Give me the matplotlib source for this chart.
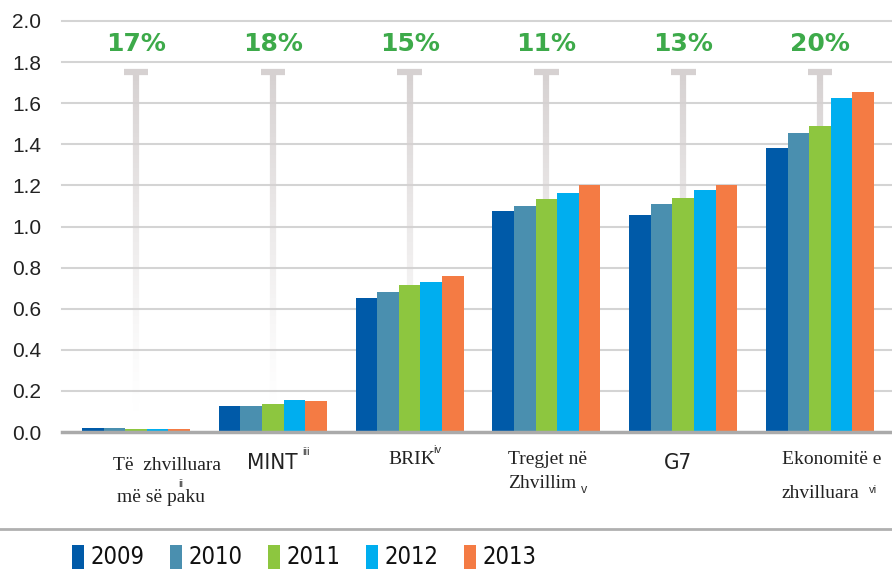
import matplotlib
matplotlib.use("Agg")
import matplotlib.pyplot as plt
from matplotlib import font_manager
from matplotlib.collections import LineCollection
from matplotlib.patches import Rectangle
import numpy as np

# data
years = ["2009", "2010", "2011", "2012", "2013"]
colors = ["#005AA8", "#4A8FAF", "#8DC63F", "#00AEEF", "#F47B44"]
groups = ["Të zhvilluara\nmë së paku", "MINT", "BRIK", "Tregjet në\nZhvillim", "G7", "Ekonomitë e\nzhvilluara"]
values = [
    [0.020, 0.127, 0.652, 1.075, 1.058, 1.382],  # 2009
    [0.020, 0.127, 0.681, 1.100, 1.111, 1.457],  # 2010
    [0.015, 0.136, 0.715, 1.134, 1.139, 1.489],  # 2011
    [0.015, 0.156, 0.730, 1.165, 1.178, 1.625],  # 2012
    [0.015, 0.151, 0.759, 1.200, 1.200, 1.655],  # 2013
]
growth = ["17%", "18%", "15%", "11%", "13%", "20%"]
yticks = [0.0, 0.2, 0.4, 0.6, 0.8, 1.0, 1.2, 1.4, 1.6, 1.8, 2.0]

# pick a narrow upright face if one is installed
cond = [f.fname for f in font_manager.fontManager.ttflist
        if f.fname.endswith("DejaVuSansCondensed.ttf")]
if cond:
    narrow = dict(fontproperties=font_manager.FontProperties(fname=cond[0]))
else:
    narrow = dict(fontfamily="Roboto")
sans = "Liberation Sans"
serif = "Liberation Serif"

W, H = 892, 569
fig = plt.figure(figsize=(W / 100, H / 100), dpi=100)
ax = fig.add_axes([62 / W, (H - 432) / H, 830 / W, 411 / H])

def px(x, y):
    return x / W, 1 - y / H

n = len(years)
bw = 0.158
x = np.arange(len(groups))
for i in range(n):
    ax.bar(x + (i - (n - 1) / 2) * bw, values[i], bw, color=colors[i], zorder=3, linewidth=0)

ax.set_xlim(-0.541, 5.526)
ax.set_ylim(0, 2.0)
ax.set_yticks(yticks)
ax.set_yticklabels([f"{t:.1f}" for t in yticks], fontfamily=sans, fontsize=15, color="#222222")
ax.tick_params(axis="y", length=0, pad=15)
ax.set_xticks([])
for s in ax.spines.values():
    s.set_visible(False)
for t in yticks[1:]:
    ax.axhline(t, color="#d4d4d4", lw=1.5, zorder=1, clip_on=False)
ax.axhline(0, color="#aaaaaa", lw=2.5, zorder=4, clip_on=False)

# fading T markers and growth labels
top = 1.752
for xi, g in zip(x, growth):
    ys = np.linspace(top, 0.08, 80)
    segs = [[(xi, ys[k]), (xi, ys[k + 1])] for k in range(len(ys) - 1)]
    alphas = np.linspace(1, 0, len(segs)) ** 1.3
    cols = [(0.84, 0.82, 0.82, a) for a in alphas]
    ax.add_collection(LineCollection(segs, colors=cols, linewidths=4.5, zorder=2))
    ax.plot([xi - 0.09, xi + 0.09], [top, top], color="#d6d1d1", lw=4.5, zorder=2, solid_capstyle="butt")
    ax.text(xi, 1.89, g, ha="center", va="center", color="#3DAA4A", fontsize=18,
            fontweight="bold", fontfamily="DejaVu Sans")

# category labels
lab = dict(fontfamily=serif, fontsize=14, color="#222222", va="center", ha="left")
sup = dict(fontfamily=sans, fontsize=8, color="#333333", va="center")
fig.text(*px(113, 466), "Të  zhvilluara", **lab)
fig.text(*px(117, 498), "më së paku", **lab)
fig.text(*px(178, 484), "ii", **sup)
fig.text(*px(247, 463), "MINT", fontsize=16, color="#222222", va="center", **narrow)
fig.text(*px(302, 452), "iii", **sup)
fig.text(*px(388, 460), "BRIK", **lab)
fig.text(*px(433, 450), "iv", **sup)
fig.text(*px(508, 460), "Tregjet në", **lab)
fig.text(*px(508, 484), "Zhvillim", **lab)
fig.text(*px(581, 490), "v", fontfamily=sans, fontsize=9, color="#333333", va="center")
fig.text(*px(664, 463), "G7", fontsize=16, color="#222222", va="center", **narrow)
fig.text(*px(782, 460), "Ekonomitë e", **lab)
fig.text(*px(782, 494), "zhvilluara", **lab)
fig.text(*px(869, 490), "vi", **sup)

# separator line and legend
fig.add_artist(plt.Line2D([0, 1], [1 - 529 / H, 1 - 529 / H], color="#b0b0b0", lw=2, transform=fig.transFigure))
for i, (yr, c) in enumerate(zip(years, colors)):
    lx = 72 + i * 98
    fig.add_artist(Rectangle(px(lx, 569), 12 / W, 24 / H, transform=fig.transFigure, color=c, lw=0))
    fig.text(*px(lx + 18, 557), yr, fontsize=17, color="#111111", va="center", **narrow)

fig.savefig("out.png", dpi=100)
